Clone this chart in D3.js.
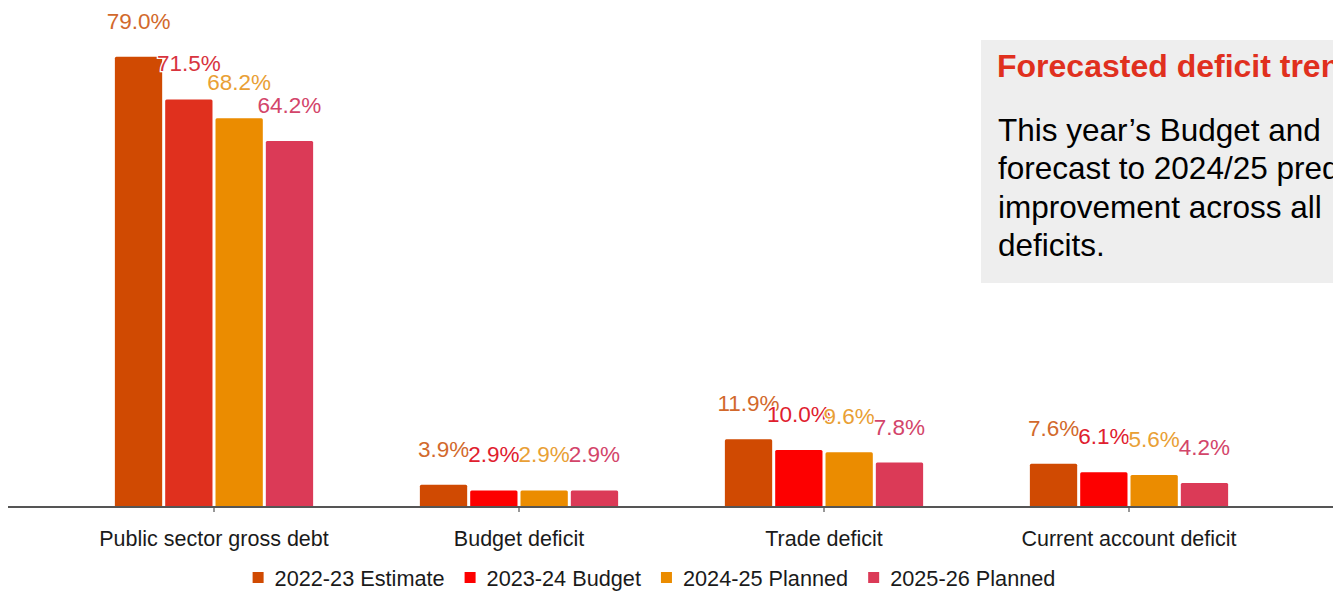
<!DOCTYPE html>
<html>
<head>
<meta charset="utf-8">
<script src="https://cdn.jsdelivr.net/npm/d3@7"></script>
<style>
  html, body { margin: 0; padding: 0; background: #ffffff; }
  svg { display: block; font-family: "Liberation Sans", Arial, sans-serif; }
</style>
</head>
<body>
<svg id="chart" width="1333" height="591"></svg>
<script>
// Deficit indicators, % of GDP
const categories = ["Public sector gross debt", "Budget deficit", "Trade deficit", "Current account deficit"];
const seriesNames = ["2022-23 Estimate", "2023-24 Budget", "2024-25 Planned", "2025-26 Planned"];
const estimate2223 = [79.0, 3.9, 11.9, 7.6];
const budget2324 = [71.5, 2.9, 10.0, 6.1];
const planned2425 = [68.2, 2.9, 9.6, 5.6];
const planned2526 = [64.2, 2.9, 7.8, 4.2];
const seriesValues = [estimate2223, budget2324, planned2425, planned2526];

const barColors = ["#D04A02", "#FD0000", "#EB8C00", "#DB3A57"];
const labelColors = ["#D2692C", "#E0202E", "#E9A035", "#D3456A"];
// the debt group shows the budget bar in the deeper corporate red
const budgetDebtColor = "#E0301E";
const budgetDebtLabel = "#D8343E";

const noteTitle = "Forecasted deficit trends";
const noteLines = [
  "This year\u2019s Budget and",
  "forecast to 2024/25 predicts",
  "improvement across all",
  "deficits."
];

const svg = d3.select("#chart");
const axisY = 507;

const x0 = d3.scaleBand()
  .domain(categories)
  .range([61.5, 1281.5])
  .paddingInner(0.35)
  .paddingOuter(0.175);

const x1 = d3.scaleBand()
  .domain(seriesNames)
  .range([0, x0.bandwidth()])
  .paddingInner(0.06);

const y = d3.scaleLinear()
  .domain([0, 80])
  .range([axisY, axisY - 80 * 5.7]);

const rows = [];
categories.forEach((c, ci) => {
  seriesNames.forEach((s, si) => {
    const special = ci === 0 && si === 1;
    rows.push({
      category: c,
      series: s,
      value: seriesValues[si][ci],
      fill: special ? budgetDebtColor : barColors[si],
      labelFill: special ? budgetDebtLabel : labelColors[si]
    });
  });
});

// note panel (runs past the right edge of the canvas)
const note = svg.append("g");
note.append("rect")
  .attr("x", 981).attr("y", 40)
  .attr("width", 400).attr("height", 243)
  .attr("fill", "#EEEEEE");
note.append("text")
  .attr("x", 997).attr("y", 77)
  .attr("fill", "#E0301E")
  .attr("font-weight", "bold")
  .attr("font-size", 32)
  .text(noteTitle);
note.append("text")
  .attr("x", 998)
  .attr("font-size", 31.5)
  .attr("fill", "#000")
  .selectAll("tspan")
  .data(noteLines)
  .join("tspan")
  .attr("x", 998)
  .attr("y", (d, i) => 141 + i * 38.3)
  .text(d => d);

// bars
const groups = svg.append("g").selectAll("g")
  .data(categories)
  .join("g")
  .attr("transform", d => `translate(${x0(d)},0)`);

groups.selectAll("rect")
  .data(c => rows.filter(r => r.category === c))
  .join("rect")
  .attr("x", d => x1(d.series))
  .attr("y", d => y(d.value))
  .attr("width", x1.bandwidth())
  .attr("height", d => axisY - y(d.value))
  .attr("rx", 1.5)
  .attr("fill", d => d.fill);

groups.selectAll("text")
  .data(c => rows.filter(r => r.category === c))
  .join("text")
  .attr("x", d => x1(d.series) + x1.bandwidth() / 2)
  .attr("y", d => y(d.value) - 28)
  .attr("text-anchor", "middle")
  .attr("font-size", 22.5)
  .attr("fill", d => d.labelFill)
  .attr("stroke", "#fff")
  .attr("stroke-width", 2.5)
  .attr("paint-order", "stroke")
  .text(d => d.value.toFixed(1) + "%");

// category axis
const axis = svg.append("g")
  .attr("transform", `translate(0,${axisY})`)
  .call(d3.axisBottom(x0).tickSize(5).tickPadding(19));
axis.select(".domain").remove();
axis.selectAll(".tick line").attr("stroke", "#333").attr("stroke-width", 1);
axis.selectAll(".tick text")
  .attr("font-size", 21.5)
  .attr("font-family", "Liberation Sans, Arial, sans-serif")
  .attr("fill", "#1a1a1a");
svg.append("line")
  .attr("x1", 8).attr("x2", 1333)
  .attr("y1", axisY).attr("y2", axisY)
  .attr("stroke", "#555")
  .attr("stroke-width", 2);

// legend
const legend = svg.append("g");
const legendFont = 21.7;
const items = legend.selectAll("g")
  .data(seriesNames)
  .join("g");
items.append("rect")
  .attr("width", 11).attr("height", 11)
  .attr("y", 572)
  .attr("fill", (d, i) => barColors[i]);
items.append("text")
  .attr("y", 586)
  .attr("font-size", legendFont)
  .attr("fill", "#1a1a1a")
  .text(d => d);
const widths = [];
items.each(function () {
  const w = d3.select(this).select("text").node().getComputedTextLength();
  widths.push(22 + w);
});
const gap = 20;
const total = d3.sum(widths) + gap * (widths.length - 1);
let cursor = 654 - total / 2;
items.each(function (d, i) {
  d3.select(this).select("rect").attr("x", cursor);
  d3.select(this).select("text").attr("x", cursor + 22);
  cursor += widths[i] + gap;
});
</script>
</body>
</html>
